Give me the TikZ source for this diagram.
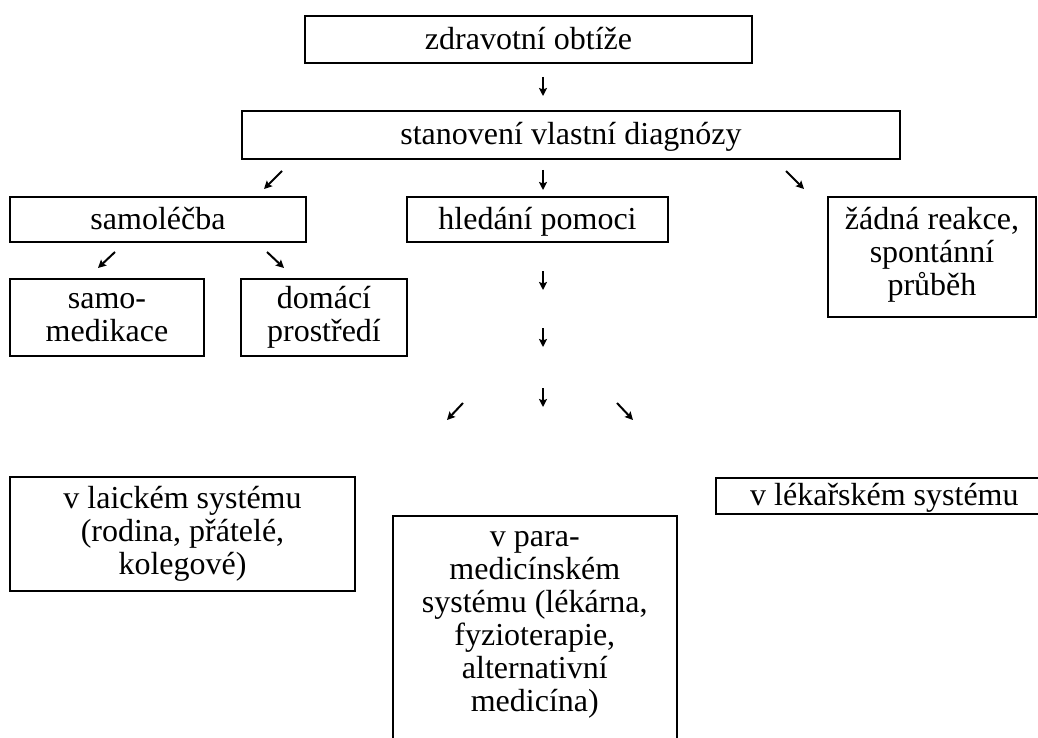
\documentclass[tikz,border=0pt]{standalone}
\usepackage{fontspec}
\setmainfont{Liberation Serif}
\usepackage{tikz}
\usetikzlibrary{arrows.meta,positioning}

\begin{document}
\begin{tikzpicture}
    [   x = 1pt
    ,   y = -1pt
    ,   box/.style=
        {   draw
        ,   line width = 1.6pt
        ,   inner sep = 0pt
        ,   align = center
        ,   node font = \fontsize{32pt}{33pt}\selectfont
        }
    ,   onebox/.style=
        {   box
        ,   text height = 0.75em
        ,   text depth = 0.15em
        }
    ,   txt/.style=
        {   inner sep = 0pt
        ,   align = center
        ,   node font = \fontsize{32pt}{33pt}\selectfont
        }
    ,   arr/.style=
        {   line width = 2pt
        ,   -{Stealth[length=8pt,width=8pt,inset=1.5pt]}
        }
    ]
    \useasboundingbox (0,0) rectangle (1038,738);
    \clip (0,0) rectangle (1038,738);
    % boxes
    \node[onebox, minimum width=447pt, minimum height=47pt] (Z) at (528.5,39.5) {zdravotní obtíže};
    \node[onebox, minimum width=658pt, minimum height=48pt] (D) at (571,135) {stanovení vlastní diagnózy};
    \node[onebox, minimum width=296pt, minimum height=45pt] (S) at (158,219.5) {samoléčba};
    \node[onebox, minimum width=261pt, minimum height=45pt] (H) at (537.5,219.5) {hledání pomoci};
    \node[box, minimum width=208pt, minimum height=120pt] (N) at (932,257) {};
    \node[txt, below=11pt of N.north] (Ntext) {žádná reakce,\\ spontánní\\ průběh};
    \node[box, minimum width=194pt, minimum height=77pt] (SM) at (107,317.5) {samo-\\ medikace};
    \node[box, minimum width=166pt, minimum height=77pt] (DP) at (324,317.5) {domácí\\ prostředí};
    \node[box, minimum width=345pt, minimum height=114pt] (L) at (182.5,534) {v laickém systému\\ (rodina, přátelé,\\ kolegové)};
    \node[box, minimum width=284pt, minimum height=250pt, anchor=north west] (P) at (392,515) {};
    \node[txt, below=16pt of P.north] (Ptext) {v para-\\ medicínském\\ systému (lékárna,\\ fyzioterapie,\\ alternativní\\ medicína)};
    \node[box, minimum width=340pt, minimum height=36pt, anchor=north west] (M) at (715,477) {};
    \node[txt, anchor=base west] (Mtext) at (750,505) {v lékařském systému};
    % arrows
    \coordinate (a1) at (543,77);   \coordinate (b1) at (543,96);
    \coordinate (a2) at (282,171);  \coordinate (b2) at (264,189);
    \coordinate (a3) at (543,170);  \coordinate (b3) at (543,190);
    \coordinate (a4) at (786,171);  \coordinate (b4) at (804,189);
    \coordinate (a5) at (115,252);  \coordinate (b5) at (98,268);
    \coordinate (a6) at (267,252);  \coordinate (b6) at (284,268);
    \coordinate (a7) at (543,271);  \coordinate (b7) at (543,290);
    \coordinate (a8) at (543,328);  \coordinate (b8) at (543,347);
    \coordinate (a9) at (543,388);  \coordinate (b9) at (543,407);
    \coordinate (a10) at (463,403); \coordinate (b10) at (447,420);
    \coordinate (a11) at (617,403); \coordinate (b11) at (633,420);
    \draw[arr] (a1) -- (b1);
    \draw[arr] (a2) -- (b2);
    \draw[arr] (a3) -- (b3);
    \draw[arr] (a4) -- (b4);
    \draw[arr] (a5) -- (b5);
    \draw[arr] (a6) -- (b6);
    \draw[arr] (a7) -- (b7);
    \draw[arr] (a8) -- (b8);
    \draw[arr] (a9) -- (b9);
    \draw[arr] (a10) -- (b10);
    \draw[arr] (a11) -- (b11);
\end{tikzpicture}
\end{document}
